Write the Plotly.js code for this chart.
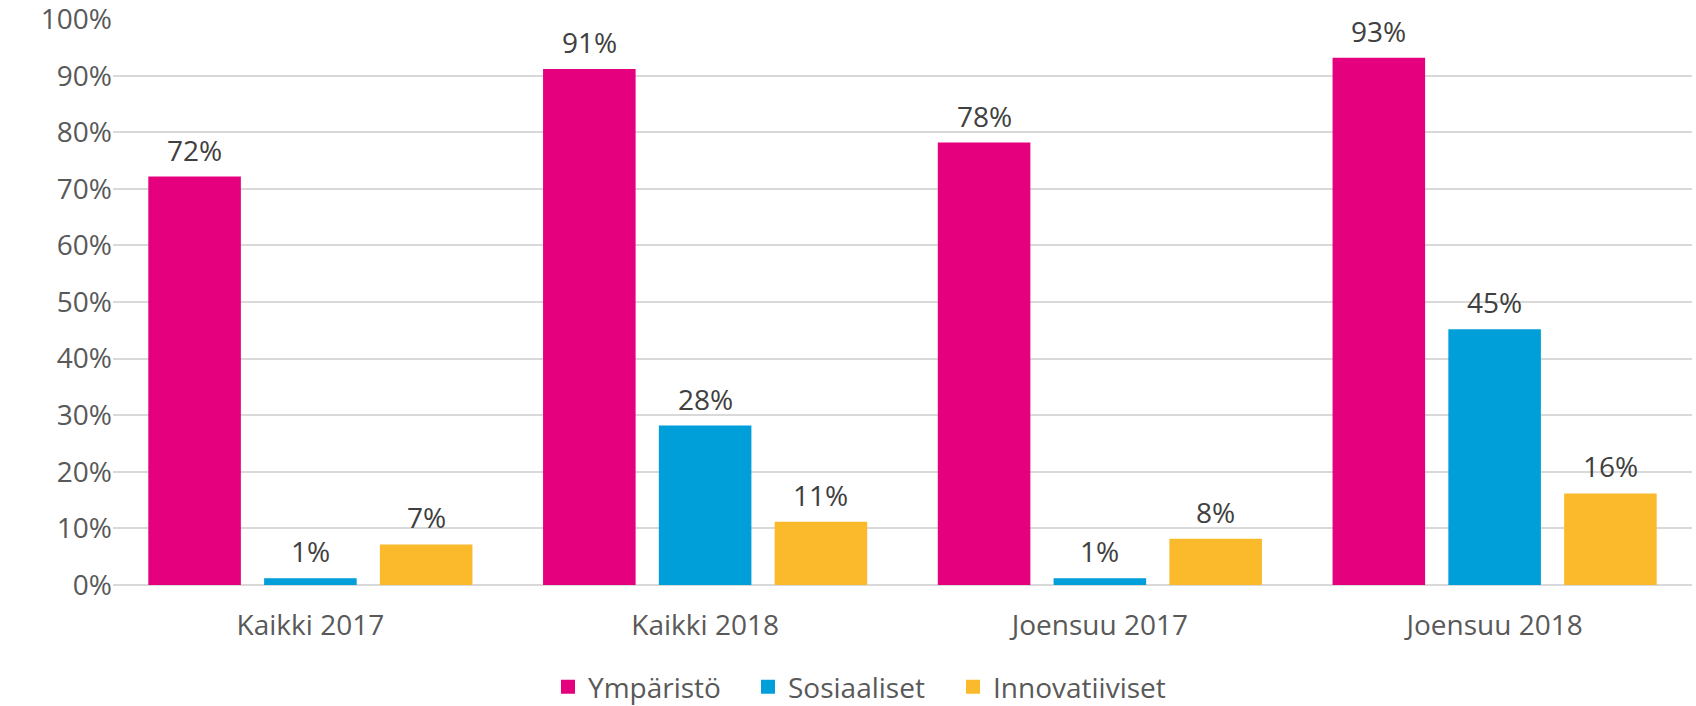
<!DOCTYPE html>
<html>
<head>
<meta charset="utf-8">
<script src="https://cdn.plot.ly/plotly-3.0.1.min.js"></script>
<style>html,body{margin:0;padding:0;background:#fff;}#chart{width:1696px;height:706px;}</style>
</head>
<body>
<div id="chart"></div>
<script>
const categories = ["Kaikki 2017", "Kaikki 2018", "Joensuu 2017", "Joensuu 2018"];
const seriesNames = ["Ympäristö", "Sosiaaliset", "Innovatiiviset"];
const ymparisto = [72, 91, 78, 93];
const sosiaaliset = [1, 28, 1, 45];
const innovatiiviset = [7, 11, 8, 16];
const yTickValues = [0, 10, 20, 30, 40, 50, 60, 70, 80, 90, 100];
const yTickLabels = ["0%", "10%", "20%", "30%", "40%", "50%", "60%", "70%", "80%", "90%", "100%"];

const colors = ["#E5007E", "#009FDA", "#FBBA2C"];
const legendWidths = [155, 160, 190];
const seriesValues = [ymparisto, sosiaaliset, innovatiiviset];
const FONT = "Open Sans, sans-serif";

const W = 1696, H = 706;
const margin = {l: 113, r: 4, t: 19, b: 121};
const bargap = 0.12;
const plotW = W - margin.l - margin.r;
const catW = plotW / categories.length;
const slotW = catW * (1 - bargap) / seriesValues.length;

const traces = seriesValues.map((vals, i) => ({
  type: "bar",
  name: seriesNames[i],
  x: categories,
  y: vals,
  legendwidth: legendWidths[i],
  marker: {color: colors[i], line: {color: colors[i], width: 2}},
  hoverinfo: "skip"
}));

const annotations = [];
seriesValues.forEach((vals, i) => {
  vals.forEach((v, j) => {
    annotations.push({
      x: categories[j], y: v, xref: "x", yref: "y",
      text: v + "%", showarrow: false,
      xshift: (i - (seriesValues.length - 1) / 2) * slotW,
      yanchor: "bottom", yshift: 7,
      font: {family: FONT, size: 28, color: "#404040"}
    });
  });
});

const layout = {
  width: W, height: H,
  margin: margin,
  paper_bgcolor: "#fff", plot_bgcolor: "#fff",
  barmode: "group", bargap: bargap, bargroupgap: 0.218,
  font: {family: FONT, size: 28, color: "#595959"},
  xaxis: {
    type: "category", automargin: false,
    showgrid: false, showline: false, zeroline: false,
    ticks: "", ticklabelstandoff: 21,
    tickfont: {family: FONT, size: 28, color: "#595959"}
  },
  yaxis: {
    range: [0, 100.02], automargin: false,
    tickvals: yTickValues, ticktext: yTickLabels,
    ticklabeloverflow: "allow",
    showgrid: true, gridcolor: "#D9D9D9", gridwidth: 2,
    zeroline: true, zerolinecolor: "#D9D9D9", zerolinewidth: 2,
    showline: false, ticks: "", ticklabelstandoff: 0,
    tickfont: {family: FONT, size: 28, color: "#595959"}
  },
  showlegend: true,
  legend: {
    orientation: "h",
    xref: "container", yref: "container",
    x: 548 / W, xanchor: "left",
    y: (H - 687) / H, yanchor: "middle",
    font: {family: FONT, size: 28, color: "#595959"},
    traceorder: "normal",
    bgcolor: "rgba(0,0,0,0)"
  },
  annotations: annotations
};

Plotly.newPlot("chart", traces, layout, {staticPlot: true, displayModeBar: false});
</script>
</body>
</html>
